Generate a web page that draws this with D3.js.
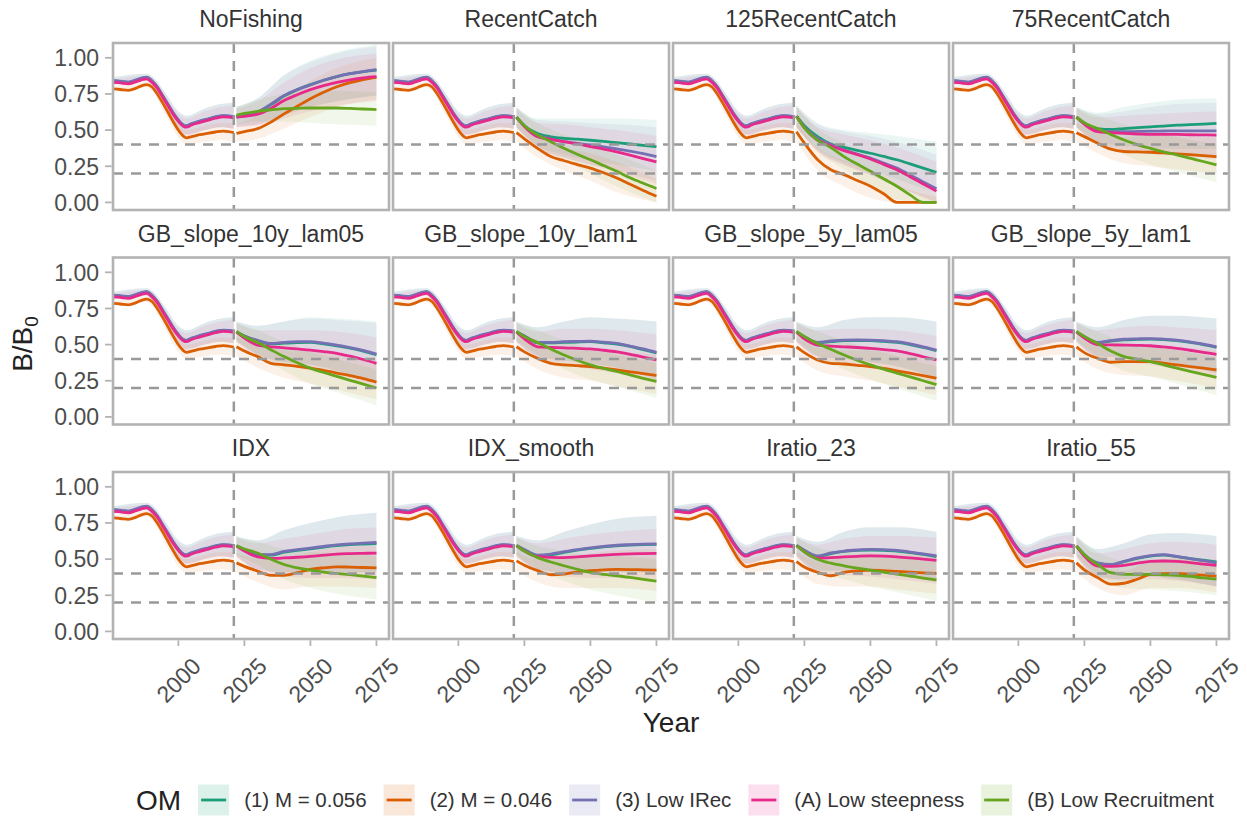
<!DOCTYPE html>
<html>
<head>
<meta charset="utf-8">
<script src="https://cdn.jsdelivr.net/npm/d3@7"></script>
<style>
  html, body { margin: 0; padding: 0; background: #ffffff; }
  svg text { font-family: "Liberation Sans", Arial, Helvetica, sans-serif; }
</style>
</head>
<body>
<svg id="chart" width="1247" height="816"></svg>
<script>
// ---------- categories ----------
const MP_NAMES = ["NoFishing", "RecentCatch", "125RecentCatch", "75RecentCatch",
  "GB_slope_10y_lam05", "GB_slope_10y_lam1", "GB_slope_5y_lam05", "GB_slope_5y_lam1",
  "IDX", "IDX_smooth", "Iratio_23", "Iratio_55"];
const OM_LABELS = ["(1) M = 0.056", "(2) M = 0.046", "(3) Low IRec", "(A) Low steepness", "(B) Low Recruitment"];
const OM_COLORS = ["#1B9E77", "#D95F02", "#7570B3", "#E7298A", "#66A61E"];

// ---------- axes ----------
const Y_TICKS = [0, 0.25, 0.5, 0.75, 1];
const Y_TICK_LABELS = ["0.00", "0.25", "0.50", "0.75", "1.00"];
const X_TICKS = [2000, 2025, 2050, 2075];
const REF_LEVELS = [0.4, 0.2];
const LAST_DATA_YEAR = 2021;

// ---------- historical period (same in every panel; OM (B) has none) ----------
const HIST_YEARS = [1975, 1978, 1981, 1984, 1986, 1988, 1990, 1992, 1994, 1996, 1998, 2000, 2002, 2003, 2005, 2008, 2011, 2014, 2017, 2019, 2021];
const HIST_OM1 = [0.840, 0.836, 0.830, 0.845, 0.858, 0.865, 0.840, 0.798, 0.738, 0.678, 0.618, 0.568, 0.533, 0.528, 0.543, 0.560, 0.575, 0.590, 0.598, 0.596, 0.591];
const HIST_OM2 = [0.785, 0.781, 0.775, 0.790, 0.806, 0.815, 0.798, 0.750, 0.690, 0.625, 0.560, 0.500, 0.457, 0.447, 0.455, 0.468, 0.478, 0.487, 0.493, 0.490, 0.483];
const HIST_OM3 = [0.842, 0.838, 0.832, 0.847, 0.860, 0.867, 0.842, 0.800, 0.740, 0.680, 0.620, 0.570, 0.535, 0.530, 0.545, 0.562, 0.577, 0.592, 0.600, 0.598, 0.593];
const HIST_OMA = [0.830, 0.826, 0.820, 0.835, 0.848, 0.855, 0.830, 0.790, 0.730, 0.670, 0.610, 0.560, 0.525, 0.520, 0.535, 0.552, 0.567, 0.582, 0.592, 0.590, 0.585];

const HIST_BAND_YEARS = [1975, 1988, 1990, 1995, 2000, 2003, 2010, 2016, 2021];
const HIST_HI_OM1 = [0.865, 0.890, 0.875, 0.760, 0.630, 0.600, 0.650, 0.680, 0.690];
const HIST_LO_OM1 = [0.815, 0.840, 0.810, 0.660, 0.520, 0.470, 0.500, 0.520, 0.510];
const HIST_HI_OM2 = [0.800, 0.835, 0.825, 0.700, 0.550, 0.500, 0.530, 0.550, 0.550];
const HIST_LO_OM2 = [0.765, 0.795, 0.770, 0.610, 0.450, 0.400, 0.420, 0.430, 0.420];
const HIST_HI_OM3 = [0.865, 0.890, 0.875, 0.760, 0.630, 0.600, 0.650, 0.680, 0.690];
const HIST_LO_OM3 = [0.815, 0.840, 0.810, 0.660, 0.520, 0.470, 0.500, 0.520, 0.510];
const HIST_HI_OMA = [0.850, 0.875, 0.860, 0.740, 0.610, 0.580, 0.630, 0.660, 0.670];
const HIST_LO_OMA = [0.810, 0.835, 0.800, 0.660, 0.510, 0.460, 0.500, 0.520, 0.510];

// ---------- projections: one row per management procedure ----------
const PROJ_YEARS = [2022, 2025, 2030, 2035, 2040, 2045, 2050, 2055, 2060, 2065, 2070, 2075];

const PROJ_OM1 = [
  [0.595, 0.600, 0.625, 0.675, 0.735, 0.780, 0.815, 0.845, 0.870, 0.890, 0.905, 0.915],
  [0.590, 0.530, 0.477, 0.454, 0.443, 0.437, 0.430, 0.422, 0.413, 0.404, 0.395, 0.386],
  [0.596, 0.530, 0.454, 0.404, 0.381, 0.360, 0.340, 0.318, 0.295, 0.266, 0.237, 0.208],
  [0.590, 0.550, 0.511, 0.505, 0.511, 0.517, 0.523, 0.528, 0.534, 0.538, 0.542, 0.546],
  [0.588, 0.560, 0.525, 0.505, 0.510, 0.514, 0.515, 0.505, 0.492, 0.475, 0.455, 0.430],
  [0.588, 0.560, 0.512, 0.512, 0.515, 0.518, 0.520, 0.512, 0.503, 0.487, 0.465, 0.442],
  [0.588, 0.555, 0.512, 0.520, 0.527, 0.528, 0.527, 0.522, 0.515, 0.500, 0.480, 0.458],
  [0.588, 0.555, 0.512, 0.525, 0.533, 0.536, 0.538, 0.535, 0.527, 0.515, 0.500, 0.481],
  [0.590, 0.565, 0.528, 0.527, 0.548, 0.560, 0.571, 0.583, 0.593, 0.600, 0.604, 0.607],
  [0.594, 0.565, 0.525, 0.530, 0.547, 0.562, 0.574, 0.585, 0.592, 0.597, 0.600, 0.602],
  [0.594, 0.560, 0.518, 0.538, 0.553, 0.560, 0.563, 0.561, 0.556, 0.545, 0.532, 0.518],
  [0.590, 0.530, 0.472, 0.460, 0.482, 0.505, 0.520, 0.527, 0.517, 0.504, 0.493, 0.480]
];
const PROJ_OM2 = [
  [0.477, 0.490, 0.510, 0.555, 0.612, 0.665, 0.717, 0.762, 0.800, 0.828, 0.850, 0.865],
  [0.482, 0.440, 0.374, 0.317, 0.288, 0.262, 0.237, 0.205, 0.169, 0.125, 0.083, 0.043],
  [0.489, 0.410, 0.295, 0.226, 0.192, 0.152, 0.112, 0.060, 0.000, 0.000, 0.000, 0.000],
  [0.482, 0.455, 0.409, 0.368, 0.352, 0.349, 0.347, 0.342, 0.336, 0.330, 0.323, 0.317],
  [0.485, 0.455, 0.417, 0.371, 0.360, 0.350, 0.337, 0.322, 0.303, 0.285, 0.265, 0.241],
  [0.485, 0.450, 0.405, 0.371, 0.360, 0.354, 0.348, 0.337, 0.325, 0.312, 0.300, 0.287],
  [0.485, 0.445, 0.394, 0.371, 0.366, 0.357, 0.348, 0.335, 0.319, 0.303, 0.286, 0.268],
  [0.485, 0.445, 0.405, 0.378, 0.382, 0.383, 0.382, 0.372, 0.360, 0.348, 0.337, 0.325],
  [0.474, 0.450, 0.417, 0.388, 0.388, 0.406, 0.429, 0.440, 0.447, 0.445, 0.442, 0.440],
  [0.488, 0.458, 0.420, 0.392, 0.397, 0.410, 0.420, 0.426, 0.429, 0.428, 0.426, 0.424],
  [0.483, 0.445, 0.408, 0.385, 0.408, 0.418, 0.424, 0.421, 0.415, 0.410, 0.405, 0.401],
  [0.474, 0.425, 0.372, 0.327, 0.333, 0.361, 0.395, 0.400, 0.401, 0.395, 0.389, 0.383]
];
const PROJ_OM3 = [
  [0.590, 0.600, 0.625, 0.680, 0.740, 0.780, 0.812, 0.845, 0.870, 0.890, 0.905, 0.918],
  [0.590, 0.530, 0.466, 0.440, 0.420, 0.408, 0.397, 0.384, 0.370, 0.355, 0.337, 0.317],
  [0.596, 0.520, 0.443, 0.400, 0.363, 0.335, 0.306, 0.272, 0.237, 0.190, 0.142, 0.094],
  [0.590, 0.545, 0.495, 0.490, 0.489, 0.491, 0.493, 0.494, 0.495, 0.495, 0.495, 0.495],
  [0.588, 0.560, 0.530, 0.508, 0.515, 0.520, 0.520, 0.510, 0.497, 0.480, 0.460, 0.435],
  [0.588, 0.560, 0.515, 0.515, 0.520, 0.522, 0.524, 0.517, 0.508, 0.490, 0.470, 0.446],
  [0.588, 0.555, 0.515, 0.525, 0.531, 0.532, 0.531, 0.527, 0.520, 0.505, 0.485, 0.462],
  [0.588, 0.555, 0.515, 0.528, 0.537, 0.540, 0.542, 0.538, 0.531, 0.519, 0.503, 0.485],
  [0.592, 0.565, 0.531, 0.531, 0.553, 0.565, 0.576, 0.588, 0.599, 0.606, 0.611, 0.615],
  [0.594, 0.565, 0.528, 0.535, 0.551, 0.565, 0.578, 0.588, 0.596, 0.600, 0.603, 0.605],
  [0.594, 0.560, 0.522, 0.543, 0.556, 0.563, 0.567, 0.565, 0.560, 0.549, 0.536, 0.522],
  [0.592, 0.530, 0.474, 0.463, 0.485, 0.508, 0.524, 0.531, 0.519, 0.503, 0.489, 0.474]
];
const PROJ_OMA = [
  [0.590, 0.595, 0.610, 0.650, 0.705, 0.745, 0.780, 0.808, 0.830, 0.848, 0.862, 0.870],
  [0.590, 0.525, 0.454, 0.436, 0.420, 0.404, 0.386, 0.369, 0.350, 0.327, 0.303, 0.280],
  [0.596, 0.515, 0.430, 0.392, 0.358, 0.330, 0.300, 0.263, 0.226, 0.178, 0.128, 0.078],
  [0.590, 0.540, 0.489, 0.482, 0.477, 0.473, 0.470, 0.470, 0.470, 0.468, 0.467, 0.466],
  [0.588, 0.545, 0.497, 0.485, 0.478, 0.470, 0.462, 0.452, 0.440, 0.420, 0.397, 0.370],
  [0.588, 0.540, 0.485, 0.480, 0.478, 0.474, 0.470, 0.461, 0.450, 0.433, 0.414, 0.394],
  [0.588, 0.540, 0.497, 0.490, 0.485, 0.480, 0.474, 0.466, 0.456, 0.438, 0.416, 0.394],
  [0.588, 0.545, 0.500, 0.498, 0.497, 0.495, 0.492, 0.484, 0.474, 0.461, 0.447, 0.433],
  [0.592, 0.555, 0.515, 0.505, 0.508, 0.513, 0.519, 0.527, 0.535, 0.538, 0.540, 0.542],
  [0.594, 0.555, 0.517, 0.512, 0.510, 0.515, 0.522, 0.528, 0.533, 0.536, 0.538, 0.540],
  [0.594, 0.550, 0.506, 0.510, 0.515, 0.519, 0.522, 0.520, 0.515, 0.508, 0.500, 0.492],
  [0.592, 0.520, 0.451, 0.450, 0.456, 0.472, 0.485, 0.487, 0.485, 0.476, 0.466, 0.456]
];
const PROJ_OMB = [
  [0.603, 0.615, 0.630, 0.640, 0.648, 0.651, 0.653, 0.653, 0.653, 0.650, 0.646, 0.642],
  [0.590, 0.530, 0.466, 0.420, 0.374, 0.333, 0.295, 0.255, 0.215, 0.170, 0.132, 0.096],
  [0.596, 0.515, 0.430, 0.380, 0.317, 0.265, 0.215, 0.163, 0.112, 0.052, 0.000, 0.000],
  [0.590, 0.550, 0.511, 0.470, 0.432, 0.400, 0.374, 0.350, 0.329, 0.306, 0.283, 0.260],
  [0.592, 0.555, 0.515, 0.465, 0.417, 0.375, 0.337, 0.307, 0.280, 0.253, 0.227, 0.200],
  [0.592, 0.555, 0.515, 0.470, 0.428, 0.392, 0.360, 0.335, 0.314, 0.290, 0.267, 0.245],
  [0.592, 0.555, 0.508, 0.468, 0.428, 0.392, 0.360, 0.330, 0.303, 0.277, 0.250, 0.223],
  [0.592, 0.555, 0.508, 0.455, 0.417, 0.398, 0.382, 0.360, 0.337, 0.315, 0.294, 0.273],
  [0.592, 0.570, 0.542, 0.500, 0.463, 0.440, 0.424, 0.410, 0.401, 0.392, 0.382, 0.372],
  [0.594, 0.555, 0.510, 0.480, 0.454, 0.430, 0.408, 0.395, 0.385, 0.373, 0.360, 0.347],
  [0.594, 0.550, 0.499, 0.472, 0.454, 0.438, 0.424, 0.410, 0.397, 0.383, 0.369, 0.356],
  [0.592, 0.530, 0.463, 0.406, 0.395, 0.395, 0.395, 0.392, 0.388, 0.380, 0.370, 0.361]
];

// ---------- projection uncertainty bands ----------
const BAND_YEARS = [2022, 2030, 2040, 2050, 2060, 2075];

const HI_OM1 = [
  [0.66, 0.72, 0.88, 0.98, 1.04, 1.09], [0.66, 0.58, 0.58, 0.58, 0.58, 0.57],
  [0.67, 0.55, 0.50, 0.48, 0.46, 0.42], [0.66, 0.62, 0.66, 0.69, 0.71, 0.72],
  [0.66, 0.63, 0.66, 0.69, 0.68, 0.66], [0.66, 0.62, 0.66, 0.69, 0.68, 0.66],
  [0.66, 0.62, 0.67, 0.69, 0.69, 0.66], [0.66, 0.62, 0.67, 0.70, 0.70, 0.68],
  [0.66, 0.63, 0.70, 0.75, 0.79, 0.82], [0.66, 0.63, 0.69, 0.74, 0.78, 0.80],
  [0.66, 0.62, 0.69, 0.72, 0.72, 0.69], [0.66, 0.57, 0.61, 0.67, 0.68, 0.66]
];
const LO_OM1 = [
  [0.53, 0.54, 0.60, 0.66, 0.70, 0.74], [0.52, 0.39, 0.33, 0.29, 0.26, 0.22],
  [0.52, 0.37, 0.28, 0.22, 0.16, 0.06], [0.52, 0.42, 0.39, 0.38, 0.37, 0.37],
  [0.52, 0.43, 0.38, 0.36, 0.32, 0.24], [0.52, 0.42, 0.39, 0.37, 0.34, 0.26],
  [0.52, 0.42, 0.40, 0.38, 0.35, 0.27], [0.52, 0.42, 0.41, 0.39, 0.37, 0.30],
  [0.52, 0.43, 0.41, 0.41, 0.41, 0.41], [0.52, 0.43, 0.41, 0.41, 0.41, 0.41],
  [0.52, 0.42, 0.42, 0.41, 0.39, 0.34], [0.52, 0.38, 0.36, 0.38, 0.36, 0.31]
];
const HI_OM2 = [
  [0.54, 0.60, 0.72, 0.84, 0.93, 1.00], [0.55, 0.45, 0.38, 0.34, 0.28, 0.16],
  [0.56, 0.38, 0.29, 0.22, 0.12, 0.04], [0.55, 0.49, 0.45, 0.46, 0.46, 0.45],
  [0.55, 0.50, 0.46, 0.45, 0.43, 0.39], [0.55, 0.49, 0.46, 0.46, 0.45, 0.43],
  [0.55, 0.48, 0.46, 0.46, 0.44, 0.41], [0.55, 0.49, 0.48, 0.49, 0.48, 0.46],
  [0.54, 0.50, 0.49, 0.55, 0.58, 0.59], [0.55, 0.50, 0.50, 0.54, 0.56, 0.57],
  [0.55, 0.49, 0.51, 0.54, 0.54, 0.54], [0.54, 0.45, 0.42, 0.49, 0.51, 0.50]
];
const LO_OM2 = [
  [0.42, 0.44, 0.51, 0.59, 0.66, 0.71], [0.42, 0.31, 0.22, 0.15, 0.07, 0.00],
  [0.42, 0.22, 0.11, 0.03, 0.00, 0.00], [0.42, 0.34, 0.27, 0.25, 0.23, 0.20],
  [0.42, 0.34, 0.27, 0.23, 0.19, 0.12], [0.42, 0.33, 0.27, 0.25, 0.21, 0.16],
  [0.42, 0.32, 0.28, 0.25, 0.21, 0.15], [0.42, 0.33, 0.29, 0.28, 0.25, 0.20],
  [0.41, 0.34, 0.29, 0.31, 0.31, 0.30], [0.42, 0.34, 0.30, 0.30, 0.30, 0.28],
  [0.42, 0.33, 0.31, 0.31, 0.29, 0.26], [0.41, 0.30, 0.25, 0.30, 0.30, 0.27]
];
const HI_OM3 = [
  [0.66, 0.72, 0.88, 0.97, 1.03, 1.08], [0.66, 0.57, 0.56, 0.55, 0.54, 0.52],
  [0.67, 0.54, 0.49, 0.46, 0.42, 0.33], [0.66, 0.61, 0.63, 0.66, 0.68, 0.69],
  [0.66, 0.63, 0.66, 0.68, 0.67, 0.65], [0.66, 0.62, 0.66, 0.69, 0.68, 0.66],
  [0.66, 0.62, 0.67, 0.69, 0.69, 0.66], [0.66, 0.62, 0.67, 0.70, 0.70, 0.68],
  [0.66, 0.63, 0.70, 0.75, 0.79, 0.82], [0.66, 0.63, 0.69, 0.74, 0.78, 0.80],
  [0.66, 0.62, 0.69, 0.72, 0.72, 0.69], [0.66, 0.57, 0.61, 0.67, 0.68, 0.66]
];
const LO_OM3 = [
  [0.52, 0.54, 0.61, 0.66, 0.70, 0.74], [0.52, 0.38, 0.31, 0.26, 0.22, 0.15],
  [0.52, 0.36, 0.26, 0.19, 0.11, 0.00], [0.52, 0.41, 0.37, 0.35, 0.33, 0.31],
  [0.52, 0.43, 0.38, 0.36, 0.32, 0.24], [0.52, 0.42, 0.39, 0.37, 0.34, 0.26],
  [0.52, 0.42, 0.40, 0.38, 0.35, 0.27], [0.52, 0.42, 0.41, 0.39, 0.37, 0.30],
  [0.52, 0.43, 0.41, 0.41, 0.41, 0.41], [0.52, 0.43, 0.41, 0.41, 0.41, 0.41],
  [0.52, 0.42, 0.42, 0.41, 0.39, 0.34], [0.52, 0.38, 0.36, 0.38, 0.36, 0.31]
];
const HI_OMA = [
  [0.65, 0.70, 0.83, 0.93, 0.99, 1.03], [0.65, 0.55, 0.54, 0.52, 0.50, 0.46],
  [0.66, 0.52, 0.47, 0.43, 0.38, 0.28], [0.65, 0.59, 0.60, 0.61, 0.62, 0.63],
  [0.65, 0.60, 0.60, 0.60, 0.59, 0.55], [0.65, 0.59, 0.61, 0.61, 0.60, 0.57],
  [0.65, 0.60, 0.61, 0.61, 0.60, 0.56], [0.65, 0.60, 0.62, 0.63, 0.62, 0.60],
  [0.65, 0.61, 0.64, 0.67, 0.70, 0.72], [0.65, 0.61, 0.64, 0.67, 0.69, 0.71],
  [0.65, 0.60, 0.64, 0.66, 0.66, 0.65], [0.65, 0.54, 0.57, 0.61, 0.62, 0.60]
];
const LO_OMA = [
  [0.52, 0.53, 0.58, 0.63, 0.67, 0.70], [0.52, 0.37, 0.31, 0.26, 0.21, 0.13],
  [0.52, 0.35, 0.26, 0.19, 0.11, 0.00], [0.52, 0.40, 0.36, 0.34, 0.32, 0.30],
  [0.52, 0.41, 0.36, 0.32, 0.29, 0.20], [0.52, 0.40, 0.36, 0.33, 0.30, 0.23],
  [0.52, 0.41, 0.37, 0.34, 0.31, 0.23], [0.52, 0.41, 0.38, 0.36, 0.33, 0.27],
  [0.52, 0.42, 0.38, 0.37, 0.37, 0.36], [0.52, 0.42, 0.38, 0.37, 0.37, 0.36],
  [0.52, 0.41, 0.39, 0.38, 0.36, 0.33], [0.52, 0.37, 0.35, 0.36, 0.35, 0.31]
];
const HI_OMB = [
  [0.66, 0.71, 0.75, 0.77, 0.77, 0.76], [0.65, 0.55, 0.47, 0.40, 0.33, 0.22],
  [0.66, 0.51, 0.41, 0.32, 0.22, 0.05], [0.65, 0.60, 0.54, 0.49, 0.45, 0.40],
  [0.65, 0.60, 0.52, 0.45, 0.40, 0.33], [0.65, 0.60, 0.53, 0.47, 0.43, 0.37],
  [0.65, 0.59, 0.53, 0.47, 0.42, 0.35], [0.65, 0.59, 0.52, 0.49, 0.46, 0.41],
  [0.65, 0.62, 0.57, 0.55, 0.54, 0.52], [0.65, 0.59, 0.56, 0.53, 0.52, 0.50],
  [0.65, 0.58, 0.55, 0.54, 0.52, 0.50], [0.65, 0.55, 0.49, 0.50, 0.50, 0.48]
];
const LO_OMB = [
  [0.54, 0.56, 0.56, 0.55, 0.54, 0.53], [0.52, 0.39, 0.29, 0.20, 0.11, 0.00],
  [0.52, 0.35, 0.23, 0.12, 0.02, 0.00], [0.52, 0.42, 0.33, 0.26, 0.21, 0.14],
  [0.53, 0.43, 0.32, 0.23, 0.17, 0.08], [0.53, 0.43, 0.33, 0.26, 0.21, 0.13],
  [0.53, 0.42, 0.33, 0.26, 0.20, 0.11], [0.53, 0.42, 0.32, 0.28, 0.23, 0.15],
  [0.53, 0.46, 0.36, 0.30, 0.26, 0.22], [0.53, 0.43, 0.35, 0.29, 0.25, 0.20],
  [0.53, 0.42, 0.36, 0.31, 0.27, 0.21], [0.53, 0.38, 0.30, 0.29, 0.28, 0.25]
];

// ---------- assemble per-OM tables ----------
const HIST_MEANS = [HIST_OM1, HIST_OM2, HIST_OM3, HIST_OMA, null];
const HIST_HIS = [HIST_HI_OM1, HIST_HI_OM2, HIST_HI_OM3, HIST_HI_OMA, null];
const HIST_LOS = [HIST_LO_OM1, HIST_LO_OM2, HIST_LO_OM3, HIST_LO_OMA, null];
const PROJ_MEANS = [PROJ_OM1, PROJ_OM2, PROJ_OM3, PROJ_OMA, PROJ_OMB];
const PROJ_HIS = [HI_OM1, HI_OM2, HI_OM3, HI_OMA, HI_OMB];
const PROJ_LOS = [LO_OM1, LO_OM2, LO_OM3, LO_OMA, LO_OMB];

// ---------- layout ----------
const PANEL_W = 276, PANEL_H = 167;
const COL_STEP = 280, ROW_STEP = 214.5;
const LEFT = 113, TOP = 43;
const RIBBON_ALPHA = 0.09;
const GRID_GREY = "#b3b3b3";
const FONT_SMALL = 23, FONT_TITLE = 28, FONT_LEGEND = 20.5;

const svg = d3.select("#chart");

const x = d3.scaleLinear().domain([1975.25, 2079.75]).range([0, PANEL_W]);
const y = d3.scaleLinear().domain([-0.0525, 1.1025]).range([PANEL_H, 0]);

const lineGen = d3.line().x(d => x(d[0])).y(d => y(d[1])).curve(d3.curveMonotoneX);
const areaGen = d3.area().x(d => x(d[0])).y0(d => y(d[1])).y1(d => y(d[2])).curve(d3.curveMonotoneX);

svg.append("defs").append("clipPath").attr("id", "panel-clip")
  .append("rect").attr("x", 0).attr("y", 0).attr("width", PANEL_W).attr("height", PANEL_H);

MP_NAMES.forEach((mp, i) => {
  const r = Math.floor(i / 4), c = i % 4;
  const g = svg.append("g")
    .attr("transform", `translate(${LEFT + c * COL_STEP},${TOP + r * ROW_STEP})`);

  const inner = g.append("g").attr("clip-path", "url(#panel-clip)");

  // uncertainty ribbons
  OM_COLORS.forEach((col, k) => {
    if (HIST_MEANS[k]) {
      const band = HIST_BAND_YEARS.map((yr, j) => [yr, HIST_LOS[k][j], HIST_HIS[k][j]]);
      inner.append("path").attr("d", areaGen(band))
        .attr("fill", col).attr("fill-opacity", RIBBON_ALPHA).attr("stroke", "none");
    }
    const pband = BAND_YEARS.map((yr, j) => [yr, PROJ_LOS[k][i][j], PROJ_HIS[k][i][j]]);
    inner.append("path").attr("d", areaGen(pband))
      .attr("fill", col).attr("fill-opacity", RIBBON_ALPHA).attr("stroke", "none");
  });

  // median trajectories
  OM_COLORS.forEach((col, k) => {
    if (HIST_MEANS[k]) {
      const pts = HIST_YEARS.map((yr, j) => [yr, HIST_MEANS[k][j]]);
      inner.append("path").attr("d", lineGen(pts))
        .attr("fill", "none").attr("stroke", col).attr("stroke-width", 2.8)
        .attr("stroke-linejoin", "round");
    }
    const ppts = PROJ_YEARS.map((yr, j) => [yr, PROJ_MEANS[k][i][j]]);
    inner.append("path").attr("d", lineGen(ppts))
      .attr("fill", "none").attr("stroke", col).attr("stroke-width", 2.8)
      .attr("stroke-linejoin", "round");
  });

  // reference levels and last data year
  REF_LEVELS.forEach(v => {
    inner.append("line")
      .attr("x1", 0).attr("x2", PANEL_W).attr("y1", y(v)).attr("y2", y(v))
      .attr("stroke", "#999999").attr("stroke-width", 2.5).attr("stroke-dasharray", "10 8");
  });
  inner.append("line")
    .attr("x1", x(LAST_DATA_YEAR)).attr("x2", x(LAST_DATA_YEAR)).attr("y1", 0).attr("y2", PANEL_H)
    .attr("stroke", "#999999").attr("stroke-width", 2.5).attr("stroke-dasharray", "10 8");

  // panel border
  g.append("rect").attr("x", 0).attr("y", 0).attr("width", PANEL_W).attr("height", PANEL_H)
    .attr("fill", "none").attr("stroke", GRID_GREY).attr("stroke-width", 2.6);

  // strip label
  g.append("text").attr("x", PANEL_W / 2).attr("y", -16)
    .attr("text-anchor", "middle").attr("font-size", FONT_SMALL).attr("fill", "#333333")
    .text(mp);

  // y axis on the first column
  if (c === 0) {
    Y_TICKS.forEach((v, j) => {
      g.append("line").attr("x1", -8).attr("x2", -1.3).attr("y1", y(v)).attr("y2", y(v))
        .attr("stroke", GRID_GREY).attr("stroke-width", 1.8);
      g.append("text").attr("x", -14).attr("y", y(v)).attr("dy", "0.36em")
        .attr("text-anchor", "end").attr("font-size", FONT_SMALL).attr("fill", "#4d4d4d")
        .text(Y_TICK_LABELS[j]);
    });
  }

  // x axis on the bottom row
  if (r === 2) {
    X_TICKS.forEach(v => {
      g.append("line").attr("x1", x(v)).attr("x2", x(v)).attr("y1", PANEL_H + 1.3).attr("y2", PANEL_H + 7)
        .attr("stroke", GRID_GREY).attr("stroke-width", 1.8);
      g.append("text")
        .attr("transform", `translate(${x(v)},${PANEL_H + 41}) rotate(-45)`)
        .attr("text-anchor", "middle").attr("dy", "0.36em")
        .attr("font-size", FONT_SMALL).attr("fill", "#4d4d4d")
        .text(String(v));
    });
  }
});

// axis titles
svg.append("text")
  .attr("x", LEFT + (3 * COL_STEP + PANEL_W) / 2).attr("y", 732)
  .attr("text-anchor", "middle").attr("font-size", FONT_TITLE).attr("fill", "#222222")
  .text("Year");

const yTitle = svg.append("text")
  .attr("transform", `translate(32,${TOP + (2 * ROW_STEP + PANEL_H) / 2 + 3}) rotate(-90)`)
  .attr("text-anchor", "middle").attr("font-size", FONT_TITLE).attr("fill", "#222222");
yTitle.append("tspan").text("B/B");
yTitle.append("tspan").attr("font-size", 19).attr("dy", 6).text("0");

// legend
const legend = svg.append("g");
const LEG_Y = 800, KEY = 31, GAP_KEY = 15, GAP_ITEM = 17;
const omTitle = legend.append("text").attr("x", 0).attr("y", LEG_Y).attr("dy", "0.36em")
  .attr("font-size", FONT_TITLE).attr("fill", "#222222").text("OM");
let pos = omTitle.node().getComputedTextLength() + GAP_ITEM;
OM_LABELS.forEach((lab, k) => {
  legend.append("rect").attr("x", pos).attr("y", LEG_Y - KEY / 2).attr("width", KEY).attr("height", KEY)
    .attr("fill", OM_COLORS[k]).attr("fill-opacity", 0.15);
  legend.append("line").attr("x1", pos + 3).attr("x2", pos + KEY - 3).attr("y1", LEG_Y).attr("y2", LEG_Y)
    .attr("stroke", OM_COLORS[k]).attr("stroke-width", 2.8);
  pos += KEY + GAP_KEY;
  const t = legend.append("text").attr("x", pos).attr("y", LEG_Y).attr("dy", "0.36em")
    .attr("font-size", FONT_LEGEND).attr("fill", "#333333").text(lab);
  pos += t.node().getComputedTextLength() + (k < OM_LABELS.length - 1 ? GAP_ITEM : 0);
});
legend.attr("transform", `translate(${675 - pos / 2},0)`);
</script>
</body>
</html>
